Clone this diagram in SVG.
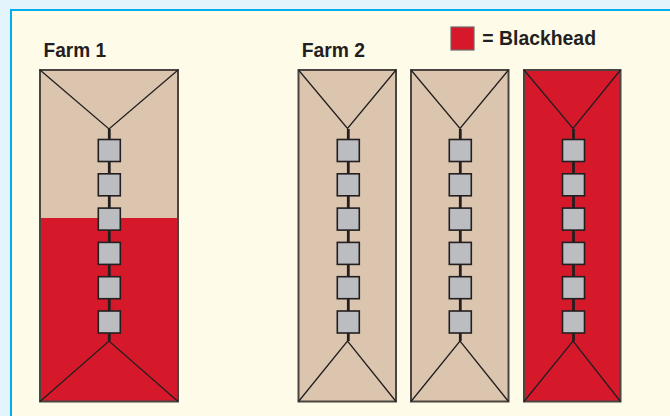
<svg xmlns="http://www.w3.org/2000/svg" width="670" height="416" viewBox="0 0 670 416">
<style>
.bg{fill:#e4f4fc}
.panel{fill:#fffbe9;stroke:#00aeef;stroke-width:2}
.house{stroke:#4a4541;stroke-width:2}
.tan{fill:#dbc5ae}
.red{fill:#d6182b}
.vl{fill:none;stroke:#231f20;stroke-width:1.3}
.stem{stroke:#231f20;stroke-width:2.8}
.sq{fill:#bcbdc0;stroke:#231f20;stroke-width:1.6}
.lbl{font-family:"Liberation Sans",Arial,sans-serif;font-weight:bold;font-size:20px;fill:#231f20}
</style>
<defs>
<g id="feeders">
<line class="stem" x1="0" y1="129" x2="0" y2="341"/>
<rect class="sq" x="-11" y="139.5" width="22" height="22"/>
<rect class="sq" x="-11" y="173.8" width="22" height="22"/>
<rect class="sq" x="-11" y="208.1" width="22" height="22"/>
<rect class="sq" x="-11" y="242.4" width="22" height="22"/>
<rect class="sq" x="-11" y="276.7" width="22" height="22"/>
<rect class="sq" x="-11" y="311" width="22" height="22"/>
</g>
</defs>
<rect class="bg" x="0" y="0" width="670" height="416"/>
<rect class="panel" x="11" y="10" width="680" height="420"/>

<g id="farm1-label"><text class="lbl" x="43.5" y="57.3" textLength="62.5" lengthAdjust="spacingAndGlyphs">Farm 1</text></g>
<g id="farm2-label"><text class="lbl" x="301.7" y="57.3" textLength="63.3" lengthAdjust="spacingAndGlyphs">Farm 2</text></g>
<g id="legend">
<rect x="451" y="27" width="23" height="23" fill="#d6182b" stroke="#6d6a67" stroke-width="1.2"/>
<text class="lbl" x="482.3" y="45" textLength="113.7" lengthAdjust="spacingAndGlyphs">= Blackhead</text>
</g>

<g id="farm1-house">
<rect class="tan" x="40" y="70" width="138" height="148"/>
<rect class="red" x="40" y="218" width="138" height="183.5"/>
<rect class="house" fill="none" x="40" y="70" width="138" height="331.5"/>
<polyline class="vl" points="40,70 109,129 178,70"/>
<polyline class="vl" points="40,401.5 109,341 178,401.5"/>
<use href="#feeders" x="109.3"/>
</g>

<g id="farm2-house1">
<rect class="house tan" x="298.5" y="70" width="97.5" height="331.5"/>
<polyline class="vl" points="298.5,70 347.5,128.5 396,70"/>
<polyline class="vl" points="298.5,401.5 347.5,341 396,401.5"/>
<use href="#feeders" x="348.3"/>
</g>

<g id="farm2-house2">
<rect class="house tan" x="411" y="70" width="97.5" height="331.5"/>
<polyline class="vl" points="411,70 460,128.5 508.5,70"/>
<polyline class="vl" points="411,401.5 460,341 508.5,401.5"/>
<use href="#feeders" x="460.3"/>
</g>

<g id="farm2-house3">
<rect class="house red" x="524" y="70" width="96.5" height="331.5"/>
<polyline class="vl" points="524,70 573,128.5 620.5,70"/>
<polyline class="vl" points="524,401.5 573,341 620.5,401.5"/>
<use href="#feeders" x="573.5"/>
</g>
</svg>
